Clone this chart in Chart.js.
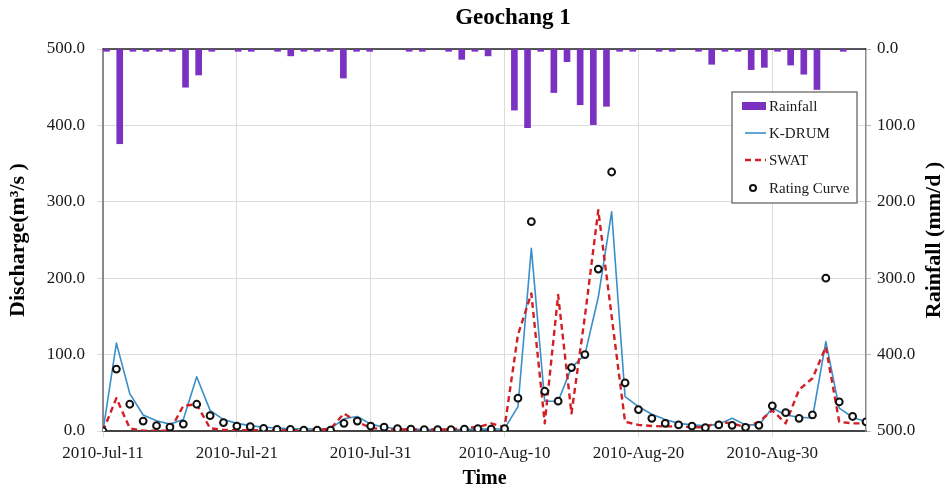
<!DOCTYPE html>
<html>
<head>
<meta charset="utf-8">
<script src="https://cdn.jsdelivr.net/npm/chart.js@4.4.1/dist/chart.umd.min.js"></script>
<style>
  html, body { margin: 0; padding: 0; background: #ffffff; }
  #wrap { width: 945px; height: 491px; }
</style>
</head>
<body>
<div id="wrap"><canvas id="c" width="945" height="491"></canvas></div>
<script>
// Daily series, 2010-Jul-11 (day 0) through 2010-Sep-06 (day 57)
const tickDays = [0, 10, 20, 30, 40, 50];
const tickLabels = ['2010-Jul-11', '2010-Jul-21', '2010-Jul-31', '2010-Aug-10', '2010-Aug-20', '2010-Aug-30'];

// Daily rainfall (mm/d)
const rainfall = [
  3, 124, 3, 3, 3, 3, 50, 34, 3, 0,
  3, 3, 0, 3, 9, 3, 3, 3, 38, 3,
  3, 0, 0, 3, 3, 0, 3, 13.5, 3, 9,
  0, 80, 103, 3, 57, 16.6, 73, 99, 75, 3,
  3, 0, 3, 3, 0, 3, 20, 3, 3, 27,
  24, 3, 21, 33, 53, 0, 3, 0
];

// Simulated discharge, K-DRUM (m3/s)
const kdrum = [
  0, 115, 49, 21, 13.5, 9, 15, 71, 27, 15,
  10, 7, 5, 4, 3, 3, 2.5, 3, 16, 19,
  9, 5, 3, 2.5, 2, 2, 2, 2, 2.5, 2.5,
  3, 32, 239, 39, 39, 83, 100, 175, 287, 45,
  32, 22, 15, 10, 8, 6.7, 9, 16.6, 8, 8,
  30, 21, 18, 17, 117, 30, 18, 12
];

// Simulated discharge, SWAT (m3/s)
const swat = [
  0, 43, 3.5, 0.5, 0.5, 0.5, 33, 35, 3.5, 1.5,
  1, 1, 1, 1, 1, 1, 1.5, 3, 23, 12,
  4, 2, 2, 2, 2, 2, 2, 4, 5, 10,
  5, 126, 180, 10, 178, 23, 150, 289, 150, 12,
  8, 6.5, 6, 6, 5, 5, 12, 10, 5, 12,
  27, 10, 54, 69, 110, 12, 10, 10
];

// Observed discharge from the rating curve (m3/s)
const ratingCurve = [
  0, 81, 35, 13, 7, 5, 9, 35, 20, 11,
  6.5, 5.6, 3.5, 2, 2, 1, 1, 1, 10, 13,
  6.5, 5, 3, 2.5, 1.7, 1.7, 1.7, 2.5, 3, 2.5,
  3, 43, 274, 52, 39, 83, 100, 212, 339, 63,
  28, 16.6, 10, 8, 6.5, 4.4, 8, 7.4, 4.8, 7.4,
  33, 24, 16.6, 21, 200, 38, 19, 12
];

const days = rainfall.map((_, i) => i);
const asPoints = arr => arr.map((v, i) => ({ x: days[i], y: v }));

const SERIF = "'Liberation Serif', 'Times New Roman', serif";
const PURPLE = '#7b31c2';
const BLUE = '#3a8fc9';
const RED = '#d21f26';

Chart.defaults.font.family = SERIF;
Chart.defaults.color = '#1a1a1a';

// Chart title, right-axis title, top frame line and the boxed legend
const decorations = {
  id: 'decorations',
  beforeDatasetsDraw(chart) {
    const { ctx, chartArea: a } = chart;
    ctx.save();
    ctx.strokeStyle = '#222222';
    ctx.lineWidth = 1.5;
    ctx.beginPath();
    ctx.moveTo(a.left, a.top);
    ctx.lineTo(a.right, a.top);
    ctx.stroke();
    ctx.restore();
  },
  afterDraw(chart) {
    const { ctx, chartArea: a } = chart;
    ctx.save();
    // title
    ctx.fillStyle = '#000';
    ctx.font = 'bold 23px ' + SERIF;
    ctx.textAlign = 'center';
    ctx.textBaseline = 'middle';
    ctx.fillText('Geochang 1', 513, 18);

    // right axis title, reading bottom to top
    ctx.save();
    ctx.translate(934, (a.top + a.bottom) / 2);
    ctx.rotate(-Math.PI / 2);
    ctx.font = 'bold 22px ' + SERIF;
    ctx.fillText('Rainfall (mm/d )', 0, 0);
    ctx.restore();

    // legend
    const bx = 732, by = 92, bw = 125, bh = 111;
    ctx.fillStyle = '#ffffff';
    ctx.fillRect(bx, by, bw, bh);
    ctx.strokeStyle = '#5a5a5a';
    ctx.lineWidth = 1.2;
    ctx.strokeRect(bx, by, bw, bh);

    const ds = chart.data.datasets;
    const rows = [106, 133, 160, 188];
    const sx0 = 742, sx1 = 766, tx = 769;
    ctx.font = '15px ' + SERIF;
    ctx.textAlign = 'left';
    ctx.textBaseline = 'middle';
    const order = ['Rainfall', 'K-DRUM', 'SWAT', 'Rating Curve'];
    order.forEach((name, k) => {
      const d = ds.find(s => s.label === name);
      const y = rows[k];
      if (d.type === 'bar') {
        ctx.fillStyle = d.backgroundColor;
        ctx.fillRect(sx0, y - 4, sx1 - sx0, 8);
      } else if (d.showLine === false) {
        ctx.beginPath();
        ctx.arc(753, y, 3, 0, Math.PI * 2);
        ctx.fillStyle = '#fff';
        ctx.fill();
        ctx.strokeStyle = d.pointBorderColor;
        ctx.lineWidth = 2;
        ctx.stroke();
      } else {
        ctx.strokeStyle = d.borderColor;
        ctx.lineWidth = d.borderWidth;
        ctx.setLineDash(d.borderDash || []);
        ctx.beginPath();
        ctx.moveTo(sx0 + 3, y);
        ctx.lineTo(sx1, y);
        ctx.stroke();
        ctx.setLineDash([]);
      }
      ctx.fillStyle = '#1a1a1a';
      ctx.fillText(name, tx, y + 1);
    });
    ctx.restore();
  }
};

new Chart(document.getElementById('c'), {
  data: {
    labels: days,
    datasets: [
      {
        type: 'bar',
        label: 'Rainfall',
        data: rainfall,
        xAxisID: 'xb',
        yAxisID: 'yr',
        backgroundColor: PURPLE,
        borderWidth: 0,
        barThickness: 6,
        order: 4
      },
      {
        type: 'line',
        label: 'K-DRUM',
        data: asPoints(kdrum),
        xAxisID: 'x',
        yAxisID: 'y',
        borderColor: BLUE,
        borderWidth: 1.6,
        borderJoinStyle: 'round',
        pointRadius: 0,
        tension: 0,
        order: 3
      },
      {
        type: 'line',
        label: 'SWAT',
        data: asPoints(swat),
        xAxisID: 'x',
        yAxisID: 'y',
        borderColor: RED,
        borderWidth: 2.4,
        borderDash: [6, 4],
        borderJoinStyle: 'round',
        pointRadius: 0,
        tension: 0,
        order: 2
      },
      {
        type: 'line',
        label: 'Rating Curve',
        data: asPoints(ratingCurve),
        xAxisID: 'x',
        yAxisID: 'y',
        showLine: false,
        pointRadius: 3.4,
        pointBorderWidth: 2,
        pointBorderColor: '#111111',
        pointBackgroundColor: '#ffffff',
        order: 1
      }
    ]
  },
  options: {
    responsive: false,
    animation: false,
    devicePixelRatio: 1,
    layout: { padding: { top: 49, right: 0, bottom: 0, left: 0 } },
    plugins: {
      legend: { display: false },
      title: { display: false },
      tooltip: { enabled: false }
    },
    scales: {
      x: {
        type: 'linear',
        position: 'bottom',
        min: 0,
        max: 57,
        afterBuildTicks: s => { s.ticks = tickDays.map(v => ({ value: v })); },
        afterFit: s => { s.height = 60; },
        ticks: {
          autoSkip: false,
          maxRotation: 0,
          padding: 6,
          font: { size: 17 },
          color: '#1a1a1a',
          callback: (v, i) => tickLabels[i]
        },
        grid: { color: '#dcdcdc', tickLength: 6, lineWidth: 1 },
        border: { color: '#444444', width: 2 },
        title: {
          display: true,
          text: 'Time',
          font: { size: 20, weight: 'bold' },
          color: '#000',
          padding: { top: 0, bottom: 0 }
        }
      },
      xb: {
        type: 'category',
        position: 'bottom',
        offset: true,
        display: false,
        grid: { display: false }
      },
      y: {
        type: 'linear',
        position: 'left',
        min: 0,
        max: 500,
        afterFit: s => { s.width = 103; },
        ticks: {
          stepSize: 100,
          padding: 12,
          font: { size: 17 },
          color: '#1a1a1a',
          callback: v => v.toFixed(1)
        },
        grid: { color: '#dcdcdc', tickLength: 6, lineWidth: 1 },
        border: { color: '#8a8a8a', width: 2 },
        title: {
          display: true,
          text: 'Discharge(m³/s )',
          font: { size: 22, weight: 'bold' },
          color: '#000',
          padding: { top: 5, bottom: 0 }
        }
      },
      yr: {
        type: 'linear',
        position: 'right',
        reverse: true,
        min: 0,
        max: 500,
        afterFit: s => { s.width = 79; },
        ticks: {
          stepSize: 100,
          padding: 6,
          font: { size: 17 },
          color: '#1a1a1a',
          callback: v => v.toFixed(1)
        },
        grid: { drawOnChartArea: false, color: '#bbbbbb', tickLength: 5 },
        border: { color: '#8a8a8a', width: 1.5 }
      }
    }
  },
  plugins: [decorations]
});
</script>
</body>
</html>
